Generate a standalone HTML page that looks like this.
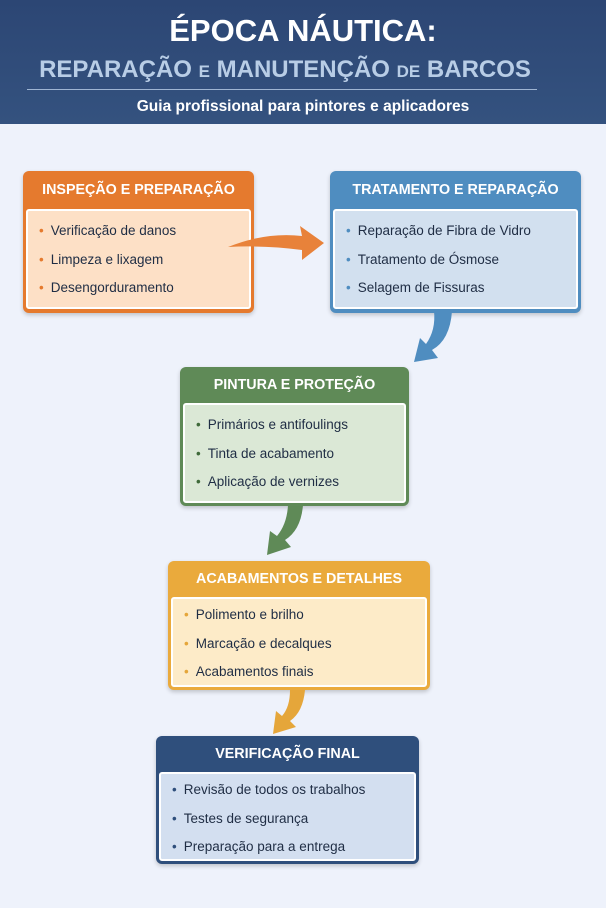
<!DOCTYPE html>
<html><head><meta charset="utf-8"><style>
*{margin:0;padding:0;box-sizing:border-box}
body{width:606px;height:908px;background:#eef2fb;font-family:"Liberation Sans",sans-serif;position:relative;overflow:hidden}
.hdr{position:absolute;left:0;top:0;width:606px;height:124px;background:linear-gradient(#2c4674,#34527f);}
.t1{position:absolute;top:13px;width:606px;text-align:center;color:#fff;font-weight:bold;font-size:31px;letter-spacing:0}
.t2{position:absolute;top:56px;left:30px;width:510px;text-align:center;color:#b8cde6;font-weight:bold;font-size:24px}
.t2 small{font-size:17px}
.ln{position:absolute;left:27px;top:89px;width:510px;height:1px;background:#9fb5d3}
.t3{position:absolute;top:98px;width:606px;text-align:center;color:#fff;font-weight:bold;font-size:15.5px}
.box{position:absolute;border-radius:6px;padding:0 3px 3px 3px;box-shadow:0 2px 4px rgba(0,0,0,.2)}
.box h3{color:#fff;font-size:14.3px;text-align:center;font-weight:bold;letter-spacing:0}
.box .in{border:2px solid #fff;border-radius:3px;padding:6px 0 0 11px}
.box li{list-style:none;font-size:13.5px;color:#1f2d44;height:28.5px;line-height:28.5px}
.box li:before{content:"•";margin-right:7px;color:var(--c)}
</style></head><body>
<div class="hdr"></div>
<div class="t1">ÉPOCA NÁUTICA:</div>
<div class="t2">REPARAÇÃO <small>E</small> MANUTENÇÃO <small>DE</small> BARCOS</div>
<div class="ln"></div>
<div class="t3">Guia profissional para pintores e aplicadores</div>

<div class="box" style="left:23px;top:171px;width:231px;height:142px;background:#e57a2e;--c:#e57a2e">
<h3 style="line-height:38px">INSPEÇÃO E PREPARAÇÃO</h3>
<div class="in" style="background:#fde0c6;height:100px"><ul>
<li>Verificação de danos</li><li>Limpeza e lixagem</li><li>Desengorduramento</li></ul></div></div>

<div class="box" style="left:330px;top:171px;width:251px;height:142px;background:#4f8dc0;--c:#4f8dc0">
<h3 style="line-height:38px">TRATAMENTO E REPARAÇÃO</h3>
<div class="in" style="background:#d2e0ef;height:100px"><ul>
<li>Reparação de Fibra de Vidro</li><li>Tratamento de Ósmose</li><li>Selagem de Fissuras</li></ul></div></div>

<div class="box" style="left:180px;top:367px;width:229px;height:139px;background:#5f8a57;--c:#3f6a3a">
<h3 style="line-height:36px">PINTURA E PROTEÇÃO</h3>
<div class="in" style="background:#dbe8d6;height:100px"><ul>
<li>Primários e antifoulings</li><li>Tinta de acabamento</li><li>Aplicação de vernizes</li></ul></div></div>

<div class="box" style="left:168px;top:561px;width:262px;height:129px;background:#eaaa3c;--c:#e5a63a">
<h3 style="line-height:36px">ACABAMENTOS E DETALHES</h3>
<div class="in" style="background:#fdebc8;height:90px;padding-top:2px"><ul>
<li>Polimento e brilho</li><li>Marcação e decalques</li><li>Acabamentos finais</li></ul></div></div>

<div class="box" style="left:156px;top:736px;width:263px;height:128px;background:#2f4f7c;--c:#2f4f7c">
<h3 style="line-height:36px">VERIFICAÇÃO FINAL</h3>
<div class="in" style="background:#d3dff0;height:89px;padding-top:2px"><ul>
<li>Revisão de todos os trabalhos</li><li>Testes de segurança</li><li>Preparação para a entrega</li></ul></div></div>

<svg width="606" height="908" style="position:absolute;left:0;top:0;pointer-events:none">
<path d="M228 247 Q265 232 302 236 L300 226 L324 243 L302 260 L302 250 Q265 245 228 247Z" fill="#e8823a"/>
<path d="M434 311 L452 311 Q450 340 432 350 L438 358 L414 362 L420 338 L426 344 Q436 330 434 311Z" fill="#4f8dc0"/>
<path d="M288 505 L303 505 Q301 530 285 540 L291 547 L267 555 L270 531 L277 536 Q287 524 288 505Z" fill="#5f8a57"/>
<path d="M290 690 L305 690 Q303 712 290 721 L296 727 L273 734 L276 711 L282 716 Q290 707 290 690Z" fill="#e5a63a"/>
</svg>
</body></html>
